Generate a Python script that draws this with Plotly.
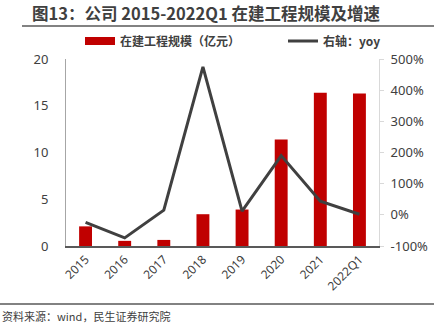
import plotly.graph_objects as go

# Data
categories = ["2015", "2016", "2017", "2018", "2019", "2020", "2021", "2022Q1"]
cip_scale = [2.1, 0.55, 0.65, 3.4, 3.9, 11.4, 16.4, 16.3]       # 在建工程规模（亿元）
yoy_pct = [-24, -74, 15, 475, 12, 190, 44, 2]                    # 右轴：yoy (%)
left_ticks = [0, 5, 10, 15, 20]
right_ticks = [-100, 0, 100, 200, 300, 400, 500]
right_tick_text = [f"{v}%" for v in right_ticks]

W, H = 441, 325
L, R, T, B = 66, 62, 59, 79

FONT = "Noto Sans CJK SC"
NUM_FONT = "Noto Sans"
BAR_RED = "#C00000"

fig = go.Figure()
fig.add_trace(go.Bar(
    x=categories, y=cip_scale, name="在建工程规模（亿元）", showlegend=False,
    marker=dict(color=BAR_RED, line=dict(width=0)), width=0.33,
))
# wide red swatch for the bar series legend entry
fig.add_trace(go.Scatter(
    x=[None], y=[None], name="在建工程规模（亿元）", legend="legend",
    mode="lines", line=dict(color=BAR_RED, width=8),
))
fig.add_trace(go.Scatter(
    x=categories, y=yoy_pct, name="右轴：yoy", yaxis="y2", legend="legend2",
    mode="lines", line=dict(color="#404040", width=3),
))

def px_x(x):
    return (x - L) / (W - L - R)

def px_y(y):
    return (H - B - y) / (H - T - B)

legend_font = dict(family=FONT, size=12, color="#404040", weight="bold")

fig.update_layout(
    width=W, height=H,
    margin=dict(l=L, r=R, t=T, b=B, pad=0),
    paper_bgcolor="white", plot_bgcolor="white",
    font=dict(family=FONT, color="#404040", size=12),
    showlegend=True,
    legend=dict(
        orientation="h", x=px_x(80), y=px_y(41), xanchor="left", yanchor="middle",
        font=legend_font, itemwidth=30, bgcolor="rgba(0,0,0,0)",
    ),
    legend2=dict(
        orientation="h", x=px_x(283), y=px_y(41), xanchor="left", yanchor="middle",
        font=legend_font, itemwidth=30, bgcolor="rgba(0,0,0,0)",
    ),
    xaxis=dict(
        type="category", tickangle=-45, showline=True, linecolor="#595959", linewidth=1.5,
        ticks="", showgrid=False, tickfont=dict(family=NUM_FONT, size=12, color="#404040"),
        range=[-0.5, 7.5],
    ),
    yaxis=dict(
        range=[0, 20], tickvals=left_ticks, showgrid=False, zeroline=False,
        showline=True, linecolor="#A6A6A6", linewidth=1, ticks="",
        tickfont=dict(family=NUM_FONT, size=13, color="#404040"), ticklabelstandoff=14,
    ),
    yaxis2=dict(
        range=[-100, 500], tickvals=right_ticks, ticktext=right_tick_text,
        overlaying="y", side="right",
        showgrid=False, zeroline=False, showline=True, linecolor="#D9D9D9", linewidth=1,
        ticks="outside", ticklen=4, tickcolor="#D9D9D9",
        tickfont=dict(family=NUM_FONT, size=13, color="#404040"), ticklabelstandoff=4,
    ),
    shapes=[
        dict(type="line", xref="paper", yref="paper", x0=px_x(22), x1=px_x(434),
             y0=px_y(26), y1=px_y(26), line=dict(color="#595959", width=1.5)),
        dict(type="line", xref="paper", yref="paper", x0=px_x(0), x1=px_x(434),
             y0=px_y(304), y1=px_y(304), line=dict(color="#595959", width=1.5)),
    ],
    annotations=[
        dict(text="<b>图13：公司 2015-2022Q1 在建工程规模及增速</b>", xref="paper", yref="paper",
             x=px_x(30), y=px_y(13), xanchor="left", yanchor="middle", showarrow=False,
             font=dict(family=FONT, size=16.5, color="#404040")),
        dict(text="资料来源：wind，民生证券研究院", xref="paper", yref="paper",
             x=px_x(0), y=px_y(316), xanchor="left", yanchor="middle", showarrow=False,
             font=dict(family=FONT, size=11, color="#404040")),
    ],
)

fig.write_html("out.html")
